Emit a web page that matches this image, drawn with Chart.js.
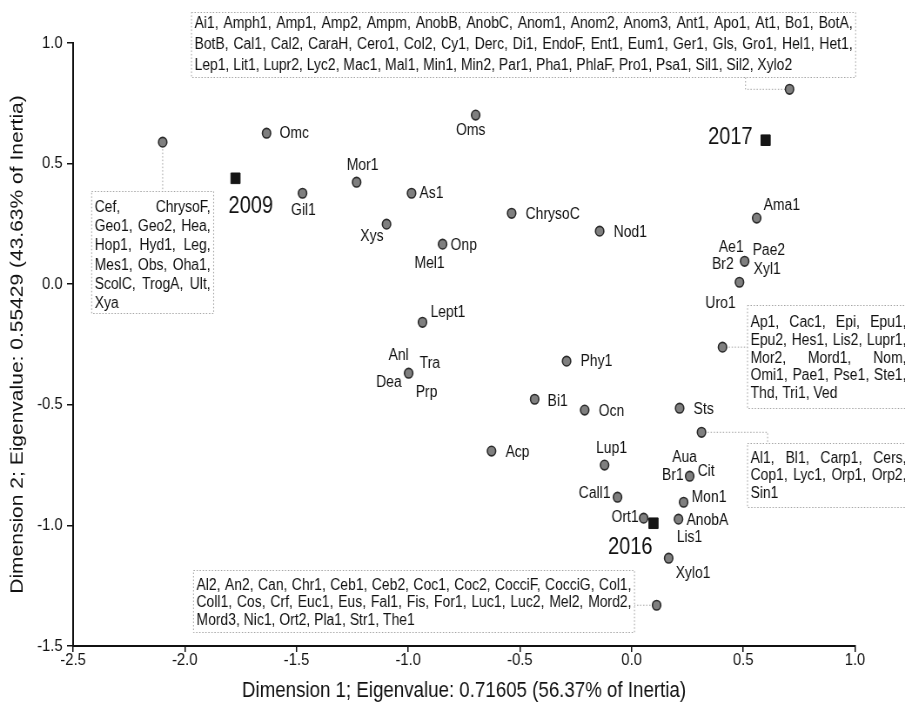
<!DOCTYPE html>
<html>
<head>
<meta charset="utf-8">
<script src="https://cdn.jsdelivr.net/npm/chart.js@4.4.1/dist/chart.umd.min.js"></script>
<style>
  html, body { margin: 0; padding: 0; background: #fff; }
  canvas { display: block; }
</style>
</head>
<body>
<canvas id="caChart" width="1040" height="709" style="width:905px;height:709px"></canvas>
<script>
// Correspondence analysis, taxa and sampling years on dimensions 1 and 2
const dim1 = [0.707, -2.099, -1.634, -1.473, -1.231, -0.985, -1.097, -0.846, -0.698, -0.537,
              -0.143, 0.560, 0.506, 0.483, 0.407, -0.936, -0.998, -0.291, -0.434, -0.210,
              0.215, 0.313, -0.627, -0.121, 0.260, -0.063, 0.233, 0.054, 0.210, 0.166, 0.112];
const dim2 = [0.808, 0.589, 0.626, 0.377, 0.423, 0.377, 0.249, 0.166, 0.701, 0.294,
              0.220, 0.274, 0.095, 0.008, -0.261, -0.158, -0.369, -0.319, -0.477, -0.522,
              -0.514, -0.614, -0.692, -0.750, -0.796, -0.883, -0.904, -0.970, -0.974, -1.136, -1.331];
const taxa = [
  ['Ai1', 'Amph1', 'Amp1', 'Amp2', 'Ampm', 'AnobB', 'AnobC', 'Anom1', 'Anom2', 'Anom3', 'Ant1', 'Apo1',
   'At1', 'Bo1', 'BotA', 'BotB', 'Cal1', 'Cal2', 'CaraH', 'Cero1', 'Col2', 'Cy1', 'Derc', 'Di1', 'EndoF',
   'Ent1', 'Eum1', 'Ger1', 'Gls', 'Gro1', 'Hel1', 'Het1', 'Lep1', 'Lit1', 'Lupr2', 'Lyc2', 'Mac1', 'Mal1',
   'Min1', 'Min2', 'Par1', 'Pha1', 'PhlaF', 'Pro1', 'Psa1', 'Sil1', 'Sil2', 'Xylo2'],
  ['Cef', 'ChrysoF', 'Geo1', 'Geo2', 'Hea', 'Hop1', 'Hyd1', 'Leg', 'Mes1', 'Obs', 'Oha1', 'ScolC',
   'TrogA', 'Ult', 'Xya'],
  ['Omc'], ['Gil1'], ['Mor1'], ['As1'], ['Xys'], ['Onp', 'Mel1'], ['Oms'], ['ChrysoC'],
  ['Nod1'], ['Ama1'], ['Ae1', 'Pae2', 'Br2', 'Xyl1'], ['Uro1'],
  ['Ap1', 'Cac1', 'Epi', 'Epu1', 'Epu2', 'Hes1', 'Lis2', 'Lupr1', 'Mor2', 'Mord1', 'Nom', 'Omi1',
   'Pae1', 'Pse1', 'Ste1', 'Thd', 'Tri1', 'Ved'],
  ['Lept1'], ['Anl', 'Tra', 'Dea', 'Prp'], ['Phy1'], ['Bi1'], ['Ocn'], ['Sts'],
  ['Al1', 'Bl1', 'Carp1', 'Cers', 'Cop1', 'Lyc1', 'Orp1', 'Orp2', 'Sin1'],
  ['Acp'], ['Lup1'], ['Aua', 'Br1', 'Cit'], ['Call1'], ['Mon1'], ['Ort1'], ['AnobA', 'Lis1'], ['Xylo1'],
  ['Al2', 'An2', 'Can', 'Chr1', 'Ceb1', 'Ceb2', 'Coc1', 'Coc2', 'CocciF', 'CocciG', 'Col1', 'Coll1',
   'Cos', 'Crf', 'Euc1', 'Eus', 'Fal1', 'Fis', 'For1', 'Luc1', 'Luc2', 'Mel2', 'Mord2', 'Mord3', 'Nic1',
   'Ort2', 'Pla1', 'Str1', 'The1']
];
const years = ['2009', '2017', '2016'];
const yearDim1 = [-1.773, 0.600, 0.098];
const yearDim2 = [0.439, 0.597, -0.991];
const xTicks = [-2.5, -2.0, -1.5, -1.0, -0.5, 0.0, 0.5, 1.0];
const yTicks = [-1.5, -1.0, -0.5, 0.0, 0.5, 1.0];
const xTitle = 'Dimension 1; Eigenvalue: 0.71605 (56.37% of Inertia)';
const yTitle = 'Dimension 2; Eigenvalue: 0.55429 (43.63% of Inertia)';

// the picture is squeezed sideways, so draw wide and let css narrow it
const SX = 905 / 1040;
const FONT = "'Liberation Sans', Arial, sans-serif";
const INK = '#111';

// label placement: [dx, dy, align] in screen px from the point
const labelAt = {
  Omc: [13, 0, 'left'], Gil1: [1, 17, 'center'], Mor1: [6, -17, 'center'], As1: [8, 0, 'left'],
  Xys: [-3, 12, 'right'], Onp: [8, 1, 'left'], Mel1: [-13, 19, 'center'], Oms: [-5, 15, 'center'],
  ChrysoC: [14, 1, 'left'], Nod1: [14, 1, 'left'], Ama1: [7, -13, 'left'],
  Ae1: [-1, -14, 'right'], Pae2: [8, -11, 'left'], Br2: [-11, 3, 'right'], Xyl1: [9, 8, 'left'],
  Uro1: [-19, 21, 'center'], Lept1: [8, -10, 'left'],
  Anl: [-10, -18, 'center'], Tra: [11, -10, 'left'], Dea: [-7, 9, 'right'], Prp: [7, 19, 'left'],
  Phy1: [14, 0, 'left'], Bi1: [13, 2, 'left'], Ocn: [14, 1, 'left'], Sts: [14, 1, 'left'],
  Acp: [14, 1, 'left'], Lup1: [7, -17, 'center'],
  Aua: [-5, -19, 'center'], Br1: [-6, -1, 'right'], Cit: [8, -5, 'left'],
  Call1: [-7, -4, 'right'], Mon1: [8, -5, 'left'], Ort1: [-5, -1, 'right'],
  AnobA: [8, 1, 'left'], Lis1: [11, 18, 'center'], Xylo1: [7, 15, 'left']
};
const yearAt = { '2009': [-7, 28, 'left'], '2017': [-13, -3, 'right'], '2016': [-1, 24, 'right'] };

// boxes for crowded points: box = [x0, x1, yTop, yBottom] in data units
const boxAt = {
  Ai1: { box: [-1.970, 1.003, 1.128, 0.858], rows: [15, 17, 16], first: 11, gap: 21, link: 'down', at: 0.510 },
  Cef: { box: [-2.417, -1.871, 0.386, -0.120], rows: [2, 3, 3, 3, 3, 1], first: 16, gap: 19.2, link: 'v' },
  Ap1: { box: [0.519, 1.244, -0.087, -0.514], rows: [4, 4, 3, 4, 3], first: 17, gap: 17.8, link: 'h' },
  Al1: { box: [0.519, 1.244, -0.659, -0.925], rows: [4, 4, 1], first: 15, gap: 17.5, link: 'hv', at: 0.609 },
  Al2: { box: [-1.961, 0.013, -1.186, -1.443], rows: [11, 12, 6], first: 15, gap: 17.5, link: 'h' }
};

function boxText(ctx, names, lay, left, right, top) {
  ctx.font = `16px ${FONT}`;
  ctx.fillStyle = INK;
  ctx.textBaseline = 'middle';
  ctx.textAlign = 'left';
  const x0 = left + 3 / SX, x1 = right - 3 / SX;
  const space = ctx.measureText(' ').width;
  let k = 0;
  lay.rows.forEach((n, r) => {
    const words = names.slice(k, k + n).map((w, i) => (k + i < names.length - 1 ? w + ',' : w));
    k += n;
    const widths = words.map(w => ctx.measureText(w).width);
    const sum = widths.reduce((a, b) => a + b, 0);
    const last = r === lay.rows.length - 1;
    const gap = !last && words.length > 1 ? (x1 - x0 - sum) / (words.length - 1) : space;
    let x = x0;
    const y = top + lay.first + r * lay.gap;
    words.forEach((w, i) => {
      ctx.fillText(w, x, y);
      x += widths[i] + gap;
    });
  });
}

const annot = {
  id: 'annot',
  beforeDraw(chart) {
    const ctx = chart.ctx;
    ctx.save();
    ctx.fillStyle = '#fff';
    ctx.fillRect(0, 0, chart.width, chart.height);
    ctx.restore();
  },
  beforeDatasetsDraw(chart) {
    const { ctx, scales: { x, y } } = chart;
    ctx.save();
    taxa.forEach((names, i) => {
      const lay = boxAt[names[0]];
      if (!lay) return;
      const px = x.getPixelForValue(dim1[i]);
      const py = y.getPixelForValue(dim2[i]);
      const L = x.getPixelForValue(lay.box[0]), R = x.getPixelForValue(lay.box[1]);
      const T = Math.round(y.getPixelForValue(lay.box[2])) + 0.5;
      const B = Math.round(y.getPixelForValue(lay.box[3])) + 0.5;
      ctx.strokeStyle = '#a3a3a3';
      ctx.lineWidth = 1;
      ctx.setLineDash([1.5, 2]);
      ctx.strokeRect(L, T, R - L, B - T);
      ctx.beginPath();
      if (lay.link === 'h') {
        ctx.moveTo(px, py); ctx.lineTo(px < L ? L : R, py);
      } else if (lay.link === 'v') {
        ctx.moveTo(px, py); ctx.lineTo(px, T);
      } else if (lay.link === 'down') {
        const ax = x.getPixelForValue(lay.at);
        ctx.moveTo(ax, B); ctx.lineTo(ax, py); ctx.lineTo(px, py);
      } else if (lay.link === 'hv') {
        const ax = x.getPixelForValue(lay.at);
        ctx.moveTo(px, py); ctx.lineTo(ax, py); ctx.lineTo(ax, T);
      }
      ctx.stroke();
      ctx.setLineDash([]);
      boxText(ctx, names, lay, L, R, T);
    });
    ctx.restore();
  },
  afterDatasetsDraw(chart) {
    const { ctx, scales: { x, y } } = chart;
    ctx.save();
    ctx.fillStyle = INK;
    ctx.textBaseline = 'middle';
    ctx.font = `16px ${FONT}`;
    taxa.forEach((names, i) => {
      if (boxAt[names[0]]) return;
      const px = x.getPixelForValue(dim1[i]);
      const py = y.getPixelForValue(dim2[i]);
      names.forEach(n => {
        const s = labelAt[n];
        if (!s) return;
        ctx.textAlign = s[2];
        ctx.fillText(n, px + s[0] / SX, py + s[1]);
      });
    });
    ctx.font = `23px ${FONT}`;
    years.forEach((t, i) => {
      const s = yearAt[t];
      ctx.textAlign = s[2];
      ctx.fillText(t, x.getPixelForValue(yearDim1[i]) + s[0] / SX, y.getPixelForValue(yearDim2[i]) + s[1]);
    });
    ctx.restore();
  }
};

new Chart(document.getElementById('caChart'), {
  type: 'scatter',
  data: {
    datasets: [
      {
        label: 'Taxa',
        data: dim1.map((v, i) => ({ x: v, y: dim2[i] })),
        pointRadius: 4.8,
        pointBackgroundColor: '#7f7f7f',
        pointBorderColor: '#2a2a2a',
        pointBorderWidth: 1.6
      },
      {
        label: 'Years',
        data: yearDim1.map((v, i) => ({ x: v, y: yearDim2[i] })),
        pointStyle: 'rect',
        pointRadius: 7.5,
        pointBackgroundColor: '#151515',
        pointBorderColor: '#151515',
        pointBorderWidth: 1
      }
    ]
  },
  options: {
    responsive: false,
    devicePixelRatio: 1,
    animation: false,
    layout: { padding: { top: 43, right: 57.5, left: 0, bottom: 0 } },
    plugins: { legend: { display: false }, tooltip: { enabled: false } },
    scales: {
      x: {
        type: 'linear',
        min: -2.5,
        max: 1.0,
        afterBuildTicks: s => { s.ticks = xTicks.map(v => ({ value: v })); },
        afterFit: s => { s.height = 63; },
        grid: { drawOnChartArea: false, drawTicks: true, tickLength: 6, color: '#111', lineWidth: 1.5 },
        border: { display: true, color: '#111', width: 2 },
        ticks: {
          padding: 0,
          color: INK,
          font: { family: FONT, size: 17, lineHeight: 1 },
          callback: v => v.toFixed(1)
        },
        title: {
          display: true,
          text: xTitle,
          color: INK,
          font: { family: FONT, size: 21.5 },
          padding: { top: 0, bottom: 5 }
        }
      },
      y: {
        type: 'linear',
        min: -1.5,
        max: 1.0,
        afterBuildTicks: s => { s.ticks = yTicks.map(v => ({ value: v })); },
        afterFit: s => { s.width = 84; },
        grid: { drawOnChartArea: false, drawTicks: true, tickLength: 7, color: '#111', lineWidth: 1.5 },
        border: { display: true, color: '#111', width: 2 },
        ticks: {
          padding: 5,
          color: INK,
          font: { family: FONT, size: 17 },
          callback: v => v.toFixed(1)
        },
        title: {
          display: true,
          text: yTitle,
          color: INK,
          font: { family: FONT, size: 21 },
          padding: { top: 8, bottom: 0 }
        }
      }
    }
  },
  plugins: [annot]
});
</script>
</body>
</html>
